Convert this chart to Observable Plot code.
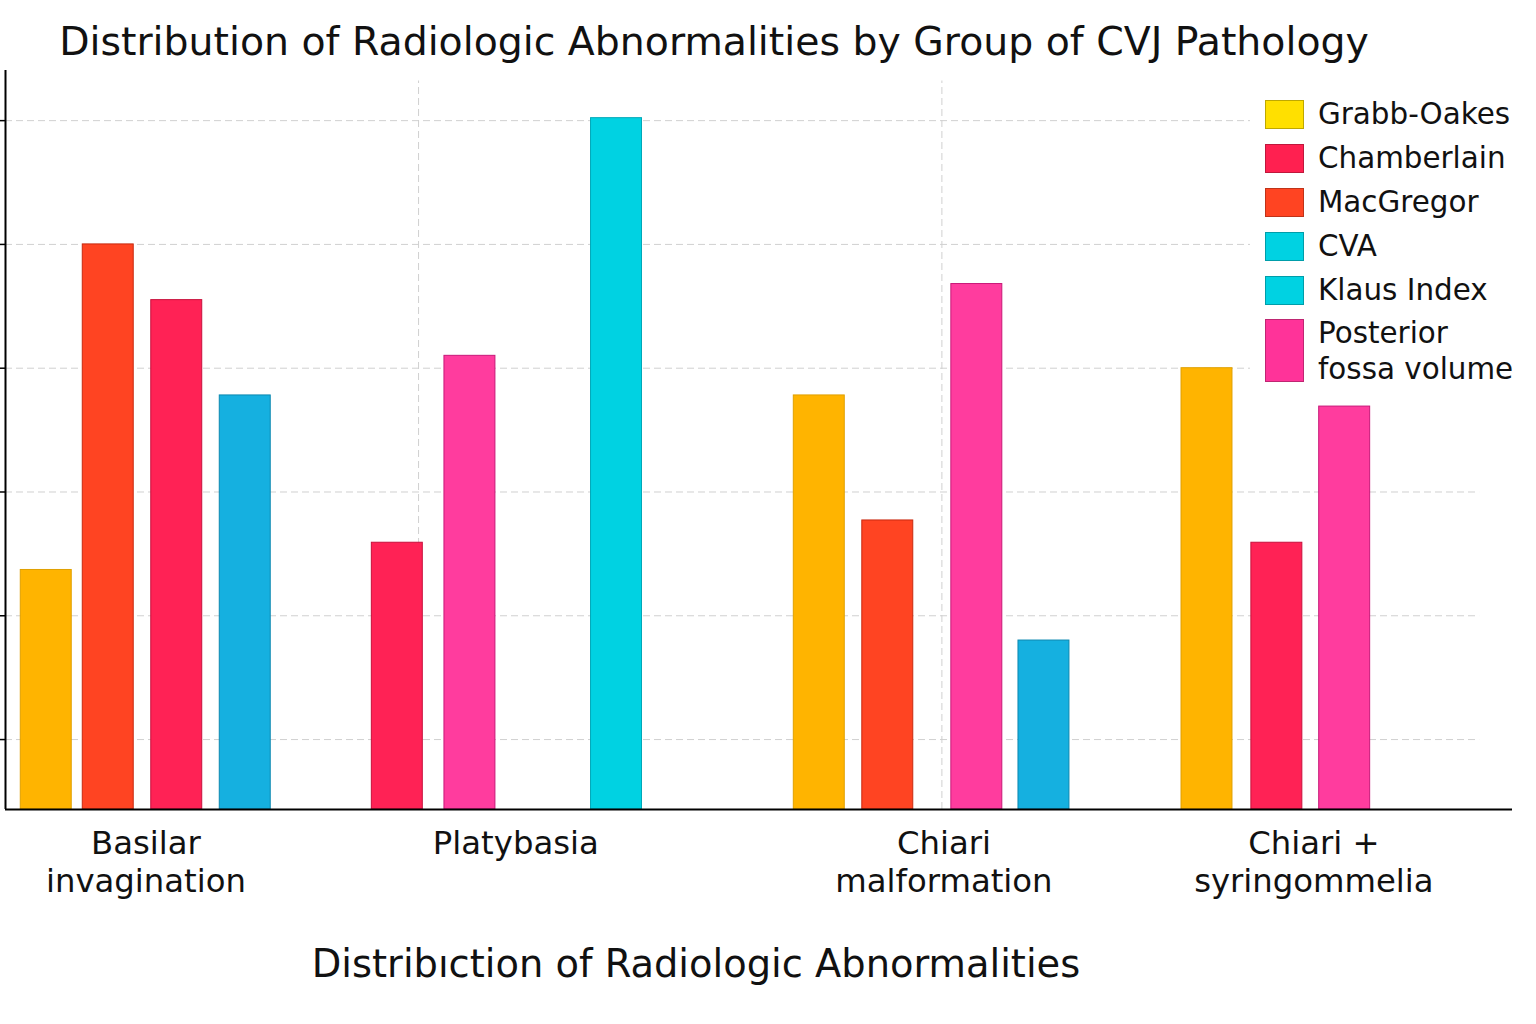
<!DOCTYPE html>
<html>
<head>
<meta charset="utf-8">
<script src="https://cdn.jsdelivr.net/npm/d3@7"></script>
<script src="https://cdn.jsdelivr.net/npm/@observablehq/plot@0.6"></script>
<style>
  html, body { margin: 0; padding: 0; background: #fff; }
  #wrap { position: relative; width: 1536px; height: 1024px; font-family: "DejaVu Sans", sans-serif; }
  #title { position: absolute; left: 0; width: 1428px; top: 18px; text-align: center; font-size: 39.4px; color: #111; white-space: nowrap; }
  #xtitle { position: absolute; left: 0; width: 1392px; top: 941px; text-align: center; font-size: 38.4px; color: #111; white-space: nowrap; }
  #legend { position: absolute; left: 1250px; top: 90px; width: 286px; background: #fff; padding: 6px 0 8px 15px; box-sizing: border-box; }
  .item { display: flex; align-items: flex-start; margin-bottom: 8px; font-size: 29.4px; line-height: 36px; color: #111; }
  .item.two { margin-top: -1px; }
  .sw { width: 39px; height: 29px; margin-top: 4px; margin-right: 14px; box-sizing: border-box; border: 1px solid rgba(0,0,0,0.25); flex: none; }
  #chart { position: absolute; left: 0; top: 0; }
</style>
</head>
<body>
<div id="wrap">
  <div id="chart"></div>
  <div id="title">Distribution of Radiologic Abnormalities by Group of CVJ Pathology</div>
  <div id="xtitle">Distribıction of Radiologic Abnormalities</div>
  <div id="legend"></div>
</div>
<script>
// ---- data ----
const groups = ["Basilar\ninvagination", "Platybasia", "Chiari\nmalformation", "Chiari +\nsyringommelia"];
const seriesNames = ["Grabb-Oakes", "Chamberlain", "MacGregor", "CVA", "Klaus Index", "Posterior\nfossa volume"];
// bars per group, in drawn order
const barSeries = [
  ["Grabb-Oakes", "MacGregor", "Chamberlain", "Klaus Index"],
  ["Chamberlain", "Posterior\nfossa volume", "CVA"],
  ["Grabb-Oakes", "MacGregor", "Posterior\nfossa volume", "Klaus Index"],
  ["Grabb-Oakes", "Chamberlain", "Posterior\nfossa volume"]
];
const barValues = [
  [23.7, 50.0, 45.5, 37.8],
  [25.9, 41.0, 60.2],
  [37.8, 27.7, 46.8, 18.0],
  [40.0, 25.9, 36.9]
];
const yTicks = [10, 20, 30, 40, 50, 60];

// ---- layout / style ----
const groupStart = [0, 5.22, 11.38, 17.04];
const withinSlot = [[0.095, 1, 2, 3], [0, 1.06, 3.2], [0, 1, 2.3, 3.28], [0, 1.02, 2.01]];
const labelSlot = [1.55, 6.95, 13.2, 18.6];
const vGrid = [5.53, 13.17];
const barHalf = 0.372;
const yBase = 4.35;
const barFill = {
  "Grabb-Oakes": "#FFB400", "Chamberlain": "#FF2255", "MacGregor": "#FF4422",
  "CVA": "#00D2E2", "Klaus Index": "#15B0E0", "Posterior\nfossa volume": "#FF3C9E"
};
const barStroke = {
  "Grabb-Oakes": "#E0A000", "Chamberlain": "#C8103C", "MacGregor": "#C82A10",
  "CVA": "#00A8B8", "Klaus Index": "#0C88B0", "Posterior\nfossa volume": "#C81878"
};
const legendFill = {
  "Grabb-Oakes": "#FFE000", "Chamberlain": "#FF2050", "MacGregor": "#FF4422",
  "CVA": "#00D2E2", "Klaus Index": "#00D2E2", "Posterior\nfossa volume": "#FF3399"
};

const bars = [];
groups.forEach((g, gi) => {
  barSeries[gi].forEach((s, i) => {
    bars.push({group: g, series: s, value: barValues[gi][i], pos: groupStart[gi] + withinSlot[gi][i]});
  });
});

const plot = Plot.plot({
  width: 1536,
  height: 1024,
  marginLeft: 5,
  marginRight: 24,
  marginTop: 70,
  marginBottom: 215,
  style: {fontFamily: "DejaVu Sans, sans-serif", background: "transparent"},
  x: {domain: [-0.5, 21.5], axis: null},
  y: {domain: [yBase, 64.05], axis: null},
  marks: [
    Plot.ruleY(yTicks, {y: d => d, x1: -0.5, x2: 21.02, stroke: "#d0d0d0", strokeDasharray: "7,4", strokeWidth: 1}),
    Plot.ruleX(vGrid, {x: d => d, y1: yBase, y2: 63.2, stroke: "#d0d0d0", strokeDasharray: "7,4", strokeWidth: 1}),
    Plot.rectY(bars, {
      x1: d => d.pos - barHalf, x2: d => d.pos + barHalf,
      y1: yBase, y2: "value",
      fill: d => barFill[d.series], stroke: d => barStroke[d.series], strokeWidth: 1
    }),
    Plot.axisY({ticks: yTicks, tickFormat: () => "", tickSize: 5, anchor: "left", label: null, stroke: "#000", strokeWidth: 1.5}),
    Plot.ruleX([-0.5], {y1: yBase, y2: 64.05, stroke: "#000", strokeWidth: 2}),
    Plot.ruleY([yBase], {x1: -0.5, x2: 21.5, stroke: "#000", strokeWidth: 2}),
    Plot.axisX({
      ticks: labelSlot, tickFormat: (d, i) => groups[i], tickSize: 0, tickPadding: 17,
      fontSize: 32.3, lineHeight: 1.18, fill: "#111", label: null
    })
  ]
});
document.getElementById("chart").appendChild(plot);

const legend = document.getElementById("legend");
seriesNames.forEach(s => {
  const item = document.createElement("div");
  item.className = "item";
  const sw = document.createElement("div");
  sw.className = "sw";
  sw.style.background = legendFill[s];
  const lines = s.split("\n");
  if (lines.length > 1) { sw.style.height = "63px"; item.classList.add("two"); }
  const tx = document.createElement("div");
  tx.innerHTML = lines.join("<br>");
  item.appendChild(sw);
  item.appendChild(tx);
  legend.appendChild(item);
});
</script>
</body>
</html>
